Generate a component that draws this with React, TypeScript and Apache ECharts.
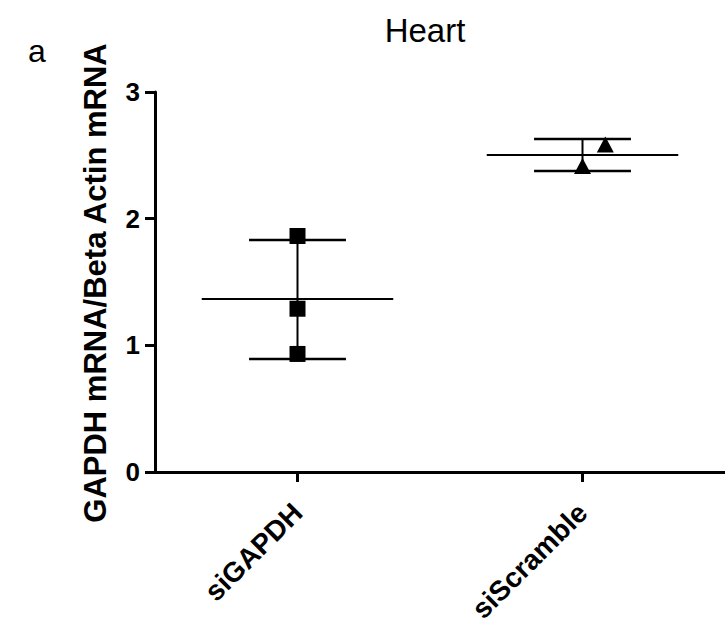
import React, { useEffect, useRef } from "react";
import * as echarts from "echarts";

const categories = ["siGAPDH", "siScramble"];
const yTicks = [0, 1, 2, 3];

// individual points: [x position (category index + jitter), value]
const gapdhX = [0, 0, 0];
const gapdhValues = [1.863, 1.289, 0.932];
const scrambleX = [1.0, 1.08];
const scrambleValues = [2.415, 2.585];

// summary per group: mean, lower (mean - SD), upper (mean + SD)
const groupX = [0, 1];
const groupMeans = [1.365, 2.502];
const groupLower = [0.892, 2.376];
const groupUpper = [1.831, 2.628];

const FONT = '"Liberation Sans", Arial, Helvetica, sans-serif';

export default function App() {
  const ref = useRef<HTMLDivElement>(null);

  useEffect(() => {
    if (!ref.current) return;
    const chart = echarts.init(ref.current, null, { renderer: "svg" });

    const summary = groupX.map((x, i) => [x, groupMeans[i], groupLower[i], groupUpper[i]]);

    const option: any = {
      animation: false,
      backgroundColor: "#ffffff",
      grid: { left: 155, top: 92, width: 572, height: 380, containLabel: false },
      xAxis: [
        {
          type: "category",
          data: categories,
          boundaryGap: true,
          axisLine: { show: true, onZero: false, lineStyle: { color: "#000", width: 3 } },
          axisTick: { show: true, alignWithLabel: true, length: 10, lineStyle: { color: "#000", width: 3 } },
          axisLabel: {
            rotate: 45,
            margin: 36,
            color: "#000",
            fontSize: 28,
            fontWeight: "bold",
            fontFamily: FONT,
          },
          splitLine: { show: false },
        },
        {
          type: "value",
          min: -0.5,
          max: 1.5,
          show: false,
          position: "bottom",
          axisLine: { onZero: false },
          splitLine: { show: false },
        },
      ],
      yAxis: {
        type: "value",
        min: yTicks[0],
        max: yTicks[yTicks.length - 1],
        interval: 1,
        axisLine: { show: true, onZero: false, lineStyle: { color: "#000", width: 3 } },
        axisTick: { show: true, length: 10, lineStyle: { color: "#000", width: 3 } },
        axisLabel: {
          margin: 15,
          color: "#000",
          fontSize: 26,
          fontWeight: "bold",
          fontFamily: FONT,
        },
        splitLine: { show: false },
      },
      graphic: [
        {
          type: "text",
          x: 425,
          y: 30,
          style: {
            text: "Heart",
            font: `33px ${FONT}`,
            fill: "#000",
            textAlign: "center",
            textVerticalAlign: "middle",
          },
        },
        {
          type: "text",
          x: 28,
          y: 51,
          style: {
            text: "a",
            font: `32px ${FONT}`,
            fill: "#000",
            textAlign: "left",
            textVerticalAlign: "middle",
          },
        },
        {
          type: "text",
          x: 95,
          y: 283,
          rotation: Math.PI / 2,
          style: {
            text: "GAPDH mRNA/Beta Actin mRNA",
            font: `bold 31px ${FONT}`,
            fill: "#000",
            textAlign: "center",
            textVerticalAlign: "middle",
          },
        },
      ],
      series: [
        {
          type: "custom",
          xAxisIndex: 1,
          yAxisIndex: 0,
          data: summary,
          z: 2,
          renderItem: (params: any, api: any) => {
            const x = api.value(0);
            const mean = api.value(1);
            const lo = api.value(2);
            const hi = api.value(3);
            const meanHalf = 0.336;
            const capHalf = 0.17;
            const pL = api.coord([x - meanHalf, mean]);
            const pR = api.coord([x + meanHalf, mean]);
            const hiL = api.coord([x - capHalf, hi]);
            const hiR = api.coord([x + capHalf, hi]);
            const loL = api.coord([x - capHalf, lo]);
            const loR = api.coord([x + capHalf, lo]);
            const vT = api.coord([x, hi]);
            const vB = api.coord([x, lo]);
            const st = (w: number) => ({ stroke: "#000", lineWidth: w, fill: "none" });
            return {
              type: "group",
              children: [
                { type: "line", shape: { x1: pL[0], y1: pL[1], x2: pR[0], y2: pR[1] }, style: st(2) },
                { type: "line", shape: { x1: hiL[0], y1: hiL[1], x2: hiR[0], y2: hiR[1] }, style: st(2.5) },
                { type: "line", shape: { x1: loL[0], y1: loL[1], x2: loR[0], y2: loR[1] }, style: st(2.5) },
                { type: "line", shape: { x1: vT[0], y1: vT[1], x2: vB[0], y2: vB[1] }, style: st(2) },
              ],
            };
          },
        },
        {
          type: "scatter",
          name: "siGAPDH",
          xAxisIndex: 1,
          yAxisIndex: 0,
          symbol: "rect",
          symbolSize: 16,
          itemStyle: { color: "#000", opacity: 1 },
          z: 3,
          data: gapdhX.map((x, i) => [x, gapdhValues[i]]),
        },
        {
          type: "scatter",
          name: "siScramble",
          xAxisIndex: 1,
          yAxisIndex: 0,
          symbol: "triangle",
          symbolSize: [17, 16],
          itemStyle: { color: "#000", opacity: 1 },
          z: 3,
          data: scrambleX.map((x, i) => [x, scrambleValues[i]]),
        },
      ],
    };

    chart.setOption(option);
    return () => chart.dispose();
  }, []);

  return (
    <div
      ref={ref}
      style={{ position: "fixed", left: 0, top: 0, width: 725, height: 626, background: "#fff" }}
    />
  );
}
